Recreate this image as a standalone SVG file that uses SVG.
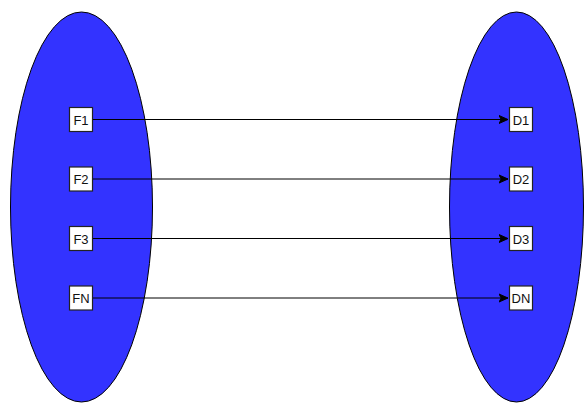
<svg xmlns="http://www.w3.org/2000/svg" width="584" height="403" viewBox="0 0 584 403">
<style>
.set{fill:#3333ff;stroke:#000;stroke-width:1}
.box{fill:#fff;stroke:#222;stroke-width:1.2}
.lbl{font-family:"Liberation Sans",Arial,sans-serif;font-size:13px;fill:#111;text-anchor:middle;dominant-baseline:central}
.edge{stroke:#000;stroke-width:1;fill:none;marker-end:url(#arr)}
</style>
<defs>
<marker id="arr" markerWidth="10" markerHeight="10" refX="9" refY="5" orient="auto" markerUnits="userSpaceOnUse">
<path d="M0,1 L9,5 L0,9 L2.2,5 Z" fill="#000" stroke="#000" stroke-width="1"/>
</marker>
</defs>
<g id="setF"><ellipse class="set" cx="81.5" cy="207" rx="71" ry="195"/></g>
<g id="setD"><ellipse class="set" cx="516.5" cy="207" rx="67" ry="195"/></g>
<g id="connectors">
<line class="edge" x1="93" y1="119.5" x2="508" y2="119.5"/>
<line class="edge" x1="93" y1="179" x2="508" y2="179"/>
<line class="edge" x1="93" y1="238.5" x2="508" y2="238.5"/>
<line class="edge" x1="93" y1="298" x2="508" y2="298"/>
</g>
<g id="F1"><rect class="box" x="69.5" y="107.5" width="23" height="24"/><text class="lbl" x="81" y="120">F1</text></g>
<g id="F2"><rect class="box" x="69.5" y="167" width="23" height="24"/><text class="lbl" x="81" y="179.5">F2</text></g>
<g id="F3"><rect class="box" x="69.5" y="226.5" width="23" height="24"/><text class="lbl" x="81" y="239">F3</text></g>
<g id="FN"><rect class="box" x="69.5" y="286" width="23" height="24"/><text class="lbl" x="81" y="298.5">FN</text></g>
<g id="D1"><rect class="box" x="509.5" y="107.5" width="23" height="24"/><text class="lbl" x="521" y="120">D1</text></g>
<g id="D2"><rect class="box" x="509.5" y="167" width="23" height="24"/><text class="lbl" x="521" y="179.5">D2</text></g>
<g id="D3"><rect class="box" x="509.5" y="226.5" width="23" height="24"/><text class="lbl" x="521" y="239">D3</text></g>
<g id="DN"><rect class="box" x="509.5" y="286" width="23" height="24"/><text class="lbl" x="521" y="298.5">DN</text></g>
</svg>
